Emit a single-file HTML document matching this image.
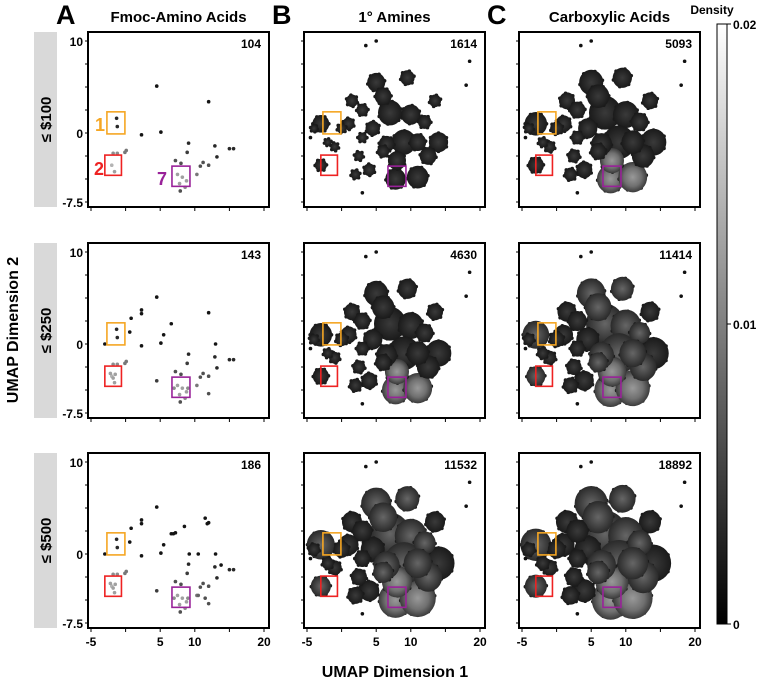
<!DOCTYPE html>
<html><head><meta charset="utf-8"><style>
body{margin:0;background:#fff;}
svg{font-family:"Liberation Sans",sans-serif;}
</style></head><body>
<svg id="fig" width="761" height="684" viewBox="0 0 761 684">
<defs>
<linearGradient id="cbar" x1="0" y1="0" x2="0" y2="1"><stop offset="0" stop-color="#fff"/><stop offset="1" stop-color="#000"/></linearGradient>
<radialGradient id="blobL"><stop offset="0" stop-color="#999"/><stop offset="0.6" stop-color="#707070"/><stop offset="1" stop-color="#3a3a3a"/></radialGradient>
<radialGradient id="blobM"><stop offset="0" stop-color="#666"/><stop offset="1" stop-color="#2a2a2a"/></radialGradient>
<radialGradient id="blobD"><stop offset="0" stop-color="#3a3a3a"/><stop offset="1" stop-color="#1a1a1a"/></radialGradient>
</defs>
</svg>
<script>
const categories=["Fmoc-Amino Acids","1° Amines","Carboxylic Acids"];
const rowLabels=["≤ $100","≤ $250","≤ $500"];
const counts=[[104,1614,5093],[143,4630,11414],[186,11532,18892]];
const xTicks=[-5,0,5,10,15,20];
const xTickLabels=["-5","","5","10","","20"];
const yTicks=[10,7.5,5,2.5,0,-2.5,-5,-7.5];
const yTickLabels=["10","","","","0","","","-7.5"];
// Fmoc points: x, y, gray level (0 black .. 1 white)
const fmocBase=[[4.5,5.1,0],[12,3.4,0],[-1.3,1.6,0.1],[-1.2,0.7,0.1],[2.3,-0.2,0],[5.1,0.1,0],[9.1,-1.1,0.1],[8.9,-2.1,0.2],[7.2,-3,0.3],[8,-3.3,0.3],[12.9,-1.4,0.1],[15,-1.7,0.1],[15.6,-1.7,0.1],[13.2,-2.6,0.1],[11.2,-3.2,0.3],[12,-3.5,0.3],[10.8,-3.6,0.3],[10.3,-4.5,0.5],[7.5,-4.5,0.7],[8.2,-4.8,0.7],[8.8,-5.2,0.7],[7.8,-5.5,0.7],[8.6,-5.9,0.6],[7.9,-6.3,0.3],[-1.8,-2.2,0.6],[-1.2,-2.2,0.6],[-0.1,-2.1,0.5],[0.1,-1.9,0.5],[-2,-3.5,0.8],[-1.6,-4.2,0.7]];
const fmocExtra250=[[-3,0,0],[0.6,1.3,0],[0.8,2.8,0],[2.3,3.3,0],[2.3,3.7,0],[4.5,-4,0.2],[6.6,2.2,0],[5.5,1,0],[13,0,0],[12,-5.4,0.3],[-2.2,-3.2,0.7],[-1.8,-3.7,0.7],[-1.5,-3.3,0.7],[9,-4.8,0.6],[7,-4.8,0.6]];
const fmocExtra500=[[6.9,2.2,0],[7.2,2.3,0],[8.5,3,0],[10.5,0,0],[9.2,0,0],[11.5,3.9,0],[11.8,3.3,0],[13.8,-1.2,0],[10.5,-4.5,0.4],[11.5,-4.8,0.3]];
// UMAP clusters for amines/acids: x, y, radius (data units), density class
const blobX=[-3,-3,7.8,11,5,9.5,13.5,7,10,4.5,9,14,8,4,1,1.5,-1,-4,2.5,12.5,6.5,12,3,6,3,11,6,2,-2,0];
const blobY=[1,-3.5,-5,-4.8,5.5,6,3.5,2.2,2,0.5,-1,-1,-3,-4,1,3.5,-1.5,0.5,-2.5,-2.5,-1.2,1.2,-0.5,4,2.5,-1,-2,-4.5,-1,0.5];
const blobR=[1.4,1,1.7,1.8,1.5,1.2,1,2,1.6,1.2,2,1.6,1.5,1,1,1,0.7,0.6,0.8,1.4,1.3,1.1,0.8,1.4,1,1.4,1,0.8,0.6,0.8];
const blobD=[1,1,2,2,1,1,0,1,1,0,1,0,2,0,0,0,0,0,0,1,1,1,0,1,0,1,1,0,0,0];
const panelScale=[[0,0.6,0.8],[0,0.8,0.95],[0,1.0,1.1]];
const outliersX=[5,3.5,18.5,18,-4.5,3];
const outliersY=[10,9.5,7.8,5.2,-0.5,-6.5];

const svg=document.getElementById('fig');
const NS="http://www.w3.org/2000/svg";
function mk(tag,attrs,parent){const e=document.createElementNS(NS,tag);for(const k in attrs)e.setAttribute(k,attrs[k]);(parent||svg).appendChild(e);return e;}
const colL=[88,304,519],rowT=[32,243,453],W=181,H=175;
function sx(c,x){return colL[c]+3+(x+5)*6.92;}
function sy(r,y){return rowT[r]+9+(10-y)*9.2;}

["A","B","C"].forEach((L,c)=>{
  const t=mk('text',{x:colL[c]-32,y:24,'font-size':27,'font-weight':'bold'});t.textContent=L;
  
  
  const tt=mk('text',{x:colL[c]+W/2,y:22,'font-size':15,'font-weight':'bold','text-anchor':'middle'});tt.textContent=categories[c];
  
  
});
rowLabels.forEach((lab,r)=>{
  const g=mk('rect',{x:34,y:rowT[r],width:23,height:H,fill:'#d9d9d9'});
  
  
  const t=mk('text',{x:0,y:0,'font-size':15,'font-weight':'bold','text-anchor':'middle',transform:`translate(51,${rowT[r]+H/2}) rotate(-90)`});t.textContent=lab;
  
  
});
const ya=mk('text',{x:0,y:0,'font-size':16,'font-weight':'bold','text-anchor':'middle',transform:'translate(18,330) rotate(-90)'});ya.textContent="UMAP Dimension 2";


const xa=mk('text',{x:395,y:677,'font-size':16,'font-weight':'bold','text-anchor':'middle'});xa.textContent="UMAP Dimension 1";



for(let r=0;r<3;r++)for(let c=0;c<3;c++){
  const g=mk('g',{});
  
  
  yTicks.forEach((v,i)=>{mk('line',{x1:colL[c]-3,x2:colL[c],y1:sy(r,v),y2:sy(r,v),stroke:'#000','stroke-width':1},g);
    if(c===0&&yTickLabels[i]){const t=mk('text',{x:colL[c]-5,y:sy(r,v)+5,'font-size':12,'font-weight':'bold','text-anchor':'end'},g);t.textContent=yTickLabels[i];
    
    }});
  xTicks.forEach((v,i)=>{mk('line',{x1:sx(c,v),x2:sx(c,v),y1:rowT[r]+H,y2:rowT[r]+H+4,stroke:'#000','stroke-width':1},g);
    if(r===2&&xTickLabels[i]){const t=mk('text',{x:sx(c,v),y:rowT[r]+H+18,'font-size':12,'font-weight':'bold','text-anchor':'middle'},g);t.textContent=xTickLabels[i];
    
    }});
  if(c===0){
    let pts=fmocBase.slice();
    if(r>=1)pts=pts.concat(fmocExtra250);
    if(r>=2)pts=pts.concat(fmocExtra500);
    pts.forEach(p=>{const v=Math.round(p[2]*200+20);const d=mk('circle',{cx:sx(c,p[0]),cy:sy(r,p[1]),r:1.8,fill:`rgb(${v},${v},${v})`},g);
      
      });
  } else {
    const s=panelScale[r][c];
    blobX.forEach((bx,i)=>{
      const rad=blobR[i]*s*6.92*1.45;
      const fill=blobD[i]===2&&s>0.7?'url(#blobL)':(blobD[i]>=1&&s>0.85?'url(#blobM)':'url(#blobD)');
      for(let k=0;k<6;k++){const a=k*Math.PI/3+i;const d=mk('circle',{cx:sx(c,bx)+Math.cos(a)*rad*0.95,cy:sy(r,blobY[i])+Math.sin(a)*rad*0.95,r:1.8,fill:'#1a1a1a'},g);
        
        }
      const b=mk('ellipse',{cx:sx(c,bx),cy:sy(r,blobY[i]),rx:rad,ry:rad*1.05,fill:fill},g);
      
      
    });
    outliersX.forEach((ox,i)=>{const d=mk('circle',{cx:sx(c,ox),cy:sy(r,outliersY[i]),r:1.8,fill:'#111'},g);
      
      });
  }
  const bx=[[-2.7,-0.1,2.3,-0.1,'#f5a623'],[-3,-0.6,-2.4,-4.6,'#ee2222'],[6.7,9.3,-3.6,-5.8,'#992299']];
  bx.forEach(b=>{const rr=mk('rect',{x:sx(c,b[0]),y:sy(r,b[2]),width:sx(c,b[1])-sx(c,b[0]),height:sy(r,b[3])-sy(r,b[2]),fill:'none',stroke:b[4],'stroke-width':1.6},g);
    
    });
  const fr=mk('rect',{x:colL[c],y:rowT[r],width:W,height:H,fill:'none',stroke:'#000','stroke-width':2},g);
  
  
  const ct=mk('text',{x:colL[c]+W-8,y:rowT[r]+16,'font-size':12,'font-weight':'bold','text-anchor':'end'},g);ct.textContent=counts[r][c];
  
  
}
[["1",95,131,'#f5a623'],["2",94,175,'#ee2222'],["7",157,185,'#992299']].forEach(l=>{
  const t=mk('text',{x:l[1],y:l[2],'font-size':18,'font-weight':'bold',fill:l[3]});t.textContent=l[0];
  
  
});
const cb=mk('rect',{x:717,y:24,width:10,height:600,fill:'url(#cbar)',stroke:'#000','stroke-width':1});


const cbt=mk('text',{x:712,y:14,'font-size':12,'font-weight':'bold','text-anchor':'middle'});cbt.textContent="Density";


[["0.02",24],["0.01",324],["0",624]].forEach(l=>{
  mk('line',{x1:727,x2:731,y1:l[1],y2:l[1],stroke:'#000'});
  const t=mk('text',{x:733,y:l[1]+5,'font-size':12,'font-weight':'bold'});t.textContent=l[0];
  
  
});
</script>
</body></html>
